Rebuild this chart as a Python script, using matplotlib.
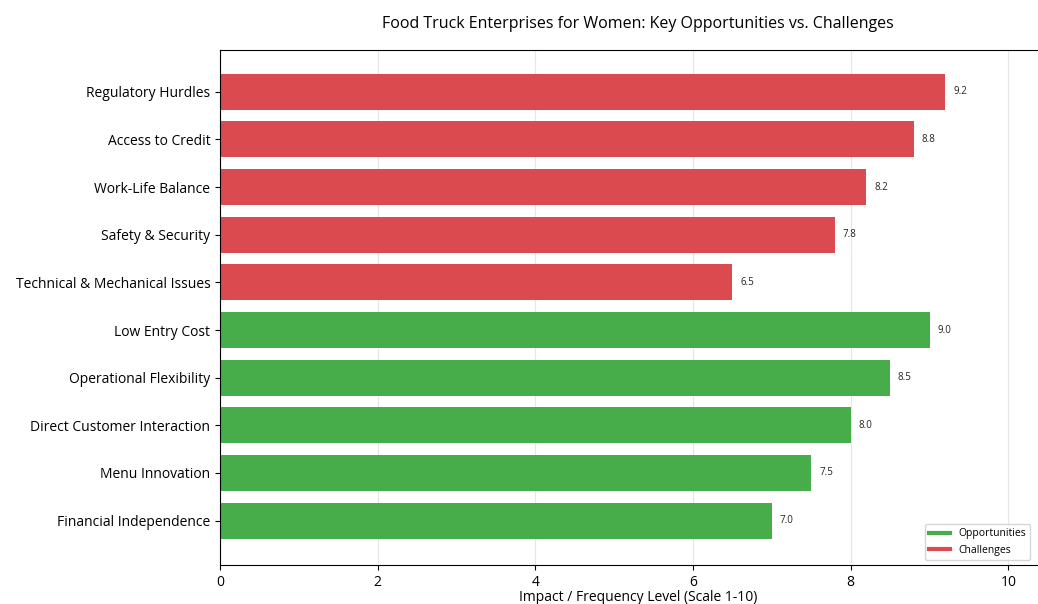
import matplotlib.pyplot as plt
from matplotlib.lines import Line2D

plt.rcParams['font.family'] = ['Open Sans', 'DejaVu Sans']

# bottom to top
categories = ['Financial Independence', 'Menu Innovation', 'Direct Customer Interaction',
              'Operational Flexibility', 'Low Entry Cost',
              'Technical & Mechanical Issues', 'Safety & Security', 'Work-Life Balance',
              'Access to Credit', 'Regulatory Hurdles']
values = [7.0, 7.5, 8.0, 8.5, 9.0, 6.5, 7.8, 8.2, 8.8, 9.2]
groups = ['Opportunities'] * 5 + ['Challenges'] * 5

col = {'Opportunities': '#46ad4a', 'Challenges': '#db4a4f'}

fig = plt.figure(figsize=(10.38, 6.04), dpi=100)
ax = fig.add_axes([0.212, 0.0646, 0.805, 0.853])

y = range(len(categories))
ax.barh(y, values, height=0.76, color=[col[g] for g in groups], zorder=2)
for i, v in enumerate(values):
    ax.text(v + 0.1, i, f'{v:.1f}', va='center', ha='left', fontsize=7, color='#222222')

ax.set_yticks(list(y))
ax.set_yticklabels(categories, fontsize=10)
ax.set_xlim(0, 10.6)
ax.set_ylim(-0.93, 9.88)
ax.set_xticks([0, 2, 4, 6, 8, 10])
ax.tick_params(axis='x', labelsize=10)
ax.grid(axis='x', color='#e6e6e6', linewidth=0.8, zorder=0)
ax.set_axisbelow(True)
ax.set_xlabel('Impact / Frequency Level (Scale 1-10)', fontsize=10, labelpad=0)
ax.set_title('Food Truck Enterprises for Women: Key Opportunities vs. Challenges',
             fontsize=11.5, pad=16, x=0.5)

handles = [Line2D([0], [0], color=col['Opportunities'], lw=3),
           Line2D([0], [0], color=col['Challenges'], lw=3)]
ax.legend(handles, ['Opportunities', 'Challenges'], loc='lower right',
          bbox_to_anchor=(0.976, 0.0), fontsize=7.5, frameon=True)

fig.savefig('out.png', dpi=100)
